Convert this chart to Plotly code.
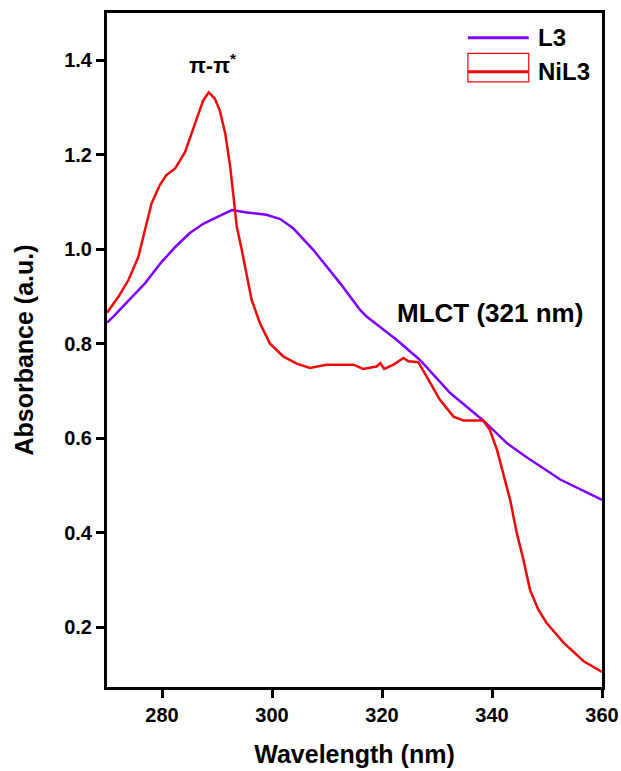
import plotly.graph_objects as go

# ---- data ----
wl_L3 = [270, 271.2, 273.3, 276.9, 279.9, 282.5, 285.0, 287.5, 290.0, 292.7, 295.4,
         299.0, 301.5, 303.9, 307.5, 312.4, 316.0, 317.2, 322.7, 326.9, 332.4, 338.4,
         342.7, 346.3, 352.4, 356.0, 360]
abs_L3 = [0.845, 0.858, 0.884, 0.928, 0.973, 1.006, 1.034, 1.054, 1.068, 1.083, 1.078,
          1.073, 1.064, 1.044, 0.999, 0.928, 0.872, 0.858, 0.808, 0.766, 0.696, 0.638,
          0.590, 0.560, 0.513, 0.492, 0.470]

wl_NiL3 = [270, 272.1, 273.9, 275.7, 276.9, 278.1, 279.6, 280.8, 282.4, 284.2, 286.0, 287.5,
           288.5, 289.6, 290.5, 291.5, 292.4, 293.0, 293.6, 294.5, 295.4, 296.3, 297.8,
           299.6, 302.1, 304.5, 306.9, 309.9, 312.4, 314.8, 316.6, 319.0, 319.7, 320.4,
           322.1, 323.9, 324.8, 326.6, 328.1, 330.5, 333.0, 334.8, 338.4, 339.6, 340.9,
           342.1, 343.3, 344.5, 345.7, 346.9, 348.4, 349.9, 353.0, 356.6, 360]
abs_NiL3 = [0.866, 0.900, 0.935, 0.984, 1.041, 1.097, 1.136, 1.157, 1.171, 1.206, 1.266, 1.315,
            1.332, 1.319, 1.294, 1.245, 1.175, 1.104, 1.048, 0.999, 0.942, 0.893, 0.844,
            0.801, 0.773, 0.758, 0.749, 0.756, 0.756, 0.756, 0.747, 0.752, 0.759, 0.747,
            0.756, 0.770, 0.763, 0.761, 0.731, 0.682, 0.646, 0.638, 0.638, 0.618, 0.576,
            0.520, 0.470, 0.400, 0.344, 0.280, 0.238, 0.210, 0.168, 0.129, 0.106]

series_names = ["L3", "NiL3"]
x_ticks = [280, 300, 320, 340, 360]
y_ticks = [0.2, 0.4, 0.6, 0.8, 1.0, 1.2, 1.4]

C_L3 = "#7F00FF"
C_NI = "#EE0A0A"
FONT = "Liberation Sans, Arial, sans-serif"

fig = go.Figure()
fig.add_trace(go.Scatter(x=wl_L3, y=abs_L3, mode="lines", name=series_names[0],
                         line=dict(color=C_L3, width=2.5), showlegend=False))
fig.add_trace(go.Scatter(x=wl_NiL3, y=abs_NiL3, mode="lines", name=series_names[1],
                         line=dict(color=C_NI, width=2.5), showlegend=False))

axis_common = dict(showline=True, linewidth=3, linecolor="black", mirror=True,
                   ticks="outside", ticklen=8, tickwidth=2.5, tickcolor="black",
                   showgrid=False, zeroline=False, automargin=False,
                   tickfont=dict(family=FONT, size=20, color="black", weight="bold"))

fig.update_xaxes(range=[270, 360], tickvals=x_ticks, ticktext=[str(v) for v in x_ticks],
                 title=dict(text="Wavelength (nm)", standoff=21,
                            font=dict(family=FONT, size=25, color="black", weight="bold")),
                 **axis_common)
fig.update_yaxes(range=[0.074, 1.5], tickvals=y_ticks, ticktext=[f"{v:.1f}" for v in y_ticks],
                 title=dict(text="Absorbance (a.u.)", standoff=24,
                            font=dict(family=FONT, size=25, color="black", weight="bold")),
                 **axis_common)

# legend (drawn manually to mimic the original)
shapes = [
    dict(type="line", xref="paper", yref="paper", x0=0.729, x1=0.852, y0=0.9633, y1=0.9633,
         line=dict(color=C_L3, width=3)),
    dict(type="rect", xref="paper", yref="paper", x0=0.729, x1=0.852, y0=0.8979, y1=0.9401,
         line=dict(color=C_NI, width=1.2)),
    dict(type="line", xref="paper", yref="paper", x0=0.729, x1=0.852, y0=0.9127, y1=0.9127,
         line=dict(color=C_NI, width=3)),
]
annotations = [
    dict(xref="paper", yref="paper", x=0.867, y=0.9633, xanchor="left", yanchor="middle",
         text=series_names[0], showarrow=False,
         font=dict(family=FONT, size=24, color="black", weight="bold")),
    dict(xref="paper", yref="paper", x=0.867, y=0.9127, xanchor="left", yanchor="middle",
         text=series_names[1], showarrow=False,
         font=dict(family=FONT, size=24, color="black", weight="bold")),
    dict(x=289.2, y=1.392, xref="x", yref="y", text="π-π<sup>*</sup>", showarrow=False,
         font=dict(family=FONT, size=22, color="black", weight="bold"),
         xanchor="center", yanchor="middle"),
    dict(x=339.6, y=0.865, xref="x", yref="y", text="MLCT (321 nm)", showarrow=False,
         font=dict(family=FONT, size=26, color="black", weight="bold"),
         xanchor="center", yanchor="middle"),
]

fig.update_layout(width=621, height=771, margin=dict(l=107, r=19, t=13, b=84),
                  plot_bgcolor="white", paper_bgcolor="white",
                  shapes=shapes, annotations=annotations)

fig.write_html("out.html")
